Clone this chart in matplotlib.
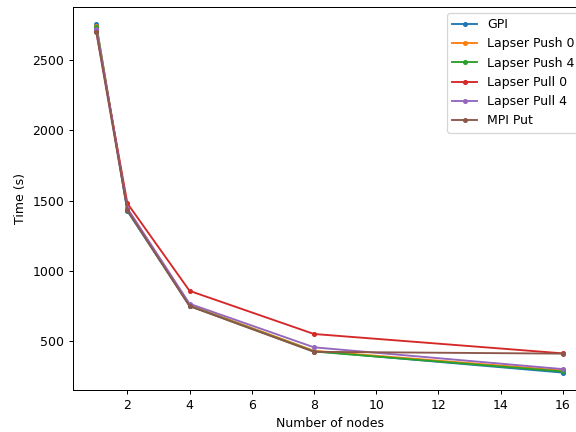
import matplotlib
matplotlib.use('Agg')
import matplotlib.pyplot as plt

nodes = [1, 2, 4, 8, 16]
gpi = [2755, 1425, 752, 428, 275]
push0 = [2745, 1440, 755, 430, 290]
push4 = [2735, 1435, 750, 425, 283]
pull0 = [2705, 1480, 857, 550, 412]
pull4 = [2725, 1445, 765, 455, 300]
mpi_put = [2700, 1430, 748, 423, 410]

labels = ['GPI', 'Lapser Push 0', 'Lapser Push 4', 'Lapser Pull 0', 'Lapser Pull 4', 'MPI Put']
series = [gpi, push0, push4, pull0, pull4, mpi_put]

fig, ax = plt.subplots(figsize=(6.4, 4.8), dpi=90)
for vals, lab in zip(series, labels):
    ax.plot(nodes, vals, marker='.', label=lab)

ax.set_xlabel('Number of nodes')
ax.set_ylabel('Time (s)')
ax.legend()
# the reference is cropped on the right, so the axes run past the edge
fig.subplots_adjust(left=73/576, right=586/576, top=1-7/432, bottom=1-390/432)
plt.savefig('out.png')
